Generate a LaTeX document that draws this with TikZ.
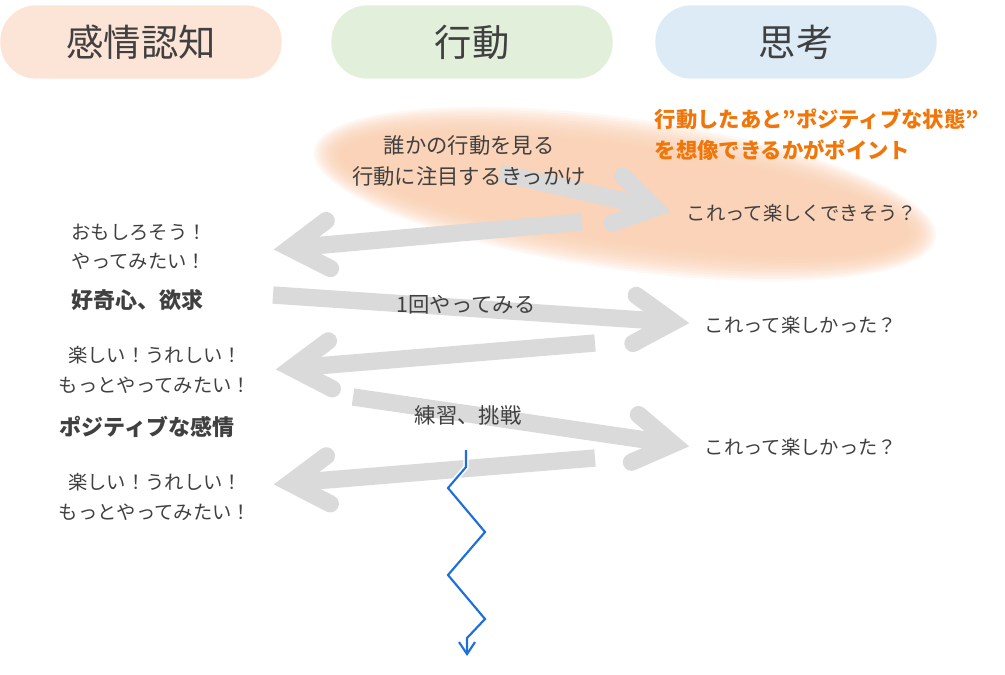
\documentclass[tikz,border=0pt]{standalone}
\usepackage{fontspec}
\setmainfont{Noto Sans CJK JP}
\usepackage{xcolor}
\usetikzlibrary{arrows.meta, positioning, calc}

\definecolor{textgray}{RGB}{64,64,64}
\definecolor{notecol}{RGB}{240,118,10}
\definecolor{arrowgray}{RGB}{218,218,218}
\definecolor{blobfill}{RGB}{249,204,172}
\definecolor{pillpeach}{RGB}{252,228,214}
\definecolor{pillgreen}{RGB}{226,239,218}
\definecolor{pillblue}{RGB}{221,235,247}
\definecolor{trailblue}{RGB}{30,110,220}

\begin{document}
\begin{tikzpicture}[x=0.75pt, y=-0.75pt,
    pill/.style={rectangle, rounded corners=27pt, minimum width=211pt, minimum height=55pt,
        text=textgray, font=\fontsize{28}{32}\selectfont},
    txt/.style={text=textgray, font=\fontsize{14.5}{22}\selectfont, align=center},
    acttxt/.style={txt, font=\fontsize{16}{23}\selectfont},
    keytxt/.style={text=textgray, font=\bfseries\fontsize{16.5}{22}\selectfont},
    note/.style={text=notecol, font=\bfseries\fontsize{16}{23}\selectfont, align=left},
    flow/.style={draw=arrowgray, line width=13pt},
    head/.style={draw=arrowgray, line width=13pt, line cap=round, line join=miter},
    trail/.style={draw=trailblue, line width=1.6pt, -{Straight Barb[length=9pt, width=12pt]}}
]
    \useasboundingbox (0,0) rectangle (1005,674);

    % Column headers
    \node[pill, fill=pillpeach] (emo) at (141,42) {感情認知};
    \node[pill, fill=pillgreen] (act) at (472,42) {行動};
    \node[pill, fill=pillblue] (think) at (796,42) {思考};

    % Highlight behind the first step
    \coordinate (blob) at (625,194);
    \foreach \k in {0,...,11}
        \fill[blobfill, opacity=0.15, rotate around={-8:(blob)}]
            (blob) ellipse [x radius=314-2.5*\k, y radius=76-2.5*\k];

    % Arrow end points
    \coordinate (r1-s) at (500,173);  \coordinate (r1-t) at (655,208);
    \coordinate (l1-s) at (582,222);  \coordinate (l1-t) at (290,248);
    \coordinate (r2-s) at (273,295);  \coordinate (r2-t) at (673,322);
    \coordinate (l2-s) at (595,343);  \coordinate (l2-t) at (292,368);
    \coordinate (r3-s) at (353,397);  \coordinate (r3-t) at (673,444);
    \coordinate (l3-s) at (595,458);  \coordinate (l3-t) at (290,483);

    % Wide gray arrows
    \foreach \a in {r1,l1,r2,l2,r3,l3} {
        \draw[flow] (\a-s) -- (\a-t);
        \draw[head] ($(\a-t)!34pt!32:(\a-s)$) -- (\a-t) -- ($(\a-t)!34pt!-32:(\a-s)$);
    }

    % Action column
    \node[acttxt] (see) at (469,161) {誰かの行動を見る\\行動に注目するきっかけ};
    \node[acttxt] (once) at (466,305) {1回やってみる};
    \node[acttxt] (train) at (468,415) {練習、挑戦};

    % Thinking column
    \node[note, anchor=west] (point) at (650,135) {行動したあと”ポジティブな状態”\\を想像できるかがポイント};
    \node[txt] (q1) at (802,213) {これって楽しくできそう？};
    \node[txt] (q2) at (801,325) {これって楽しかった？};
    \node[txt] (q3) at (801,447) {これって楽しかった？};

    % Feeling column
    \node[txt] (fun) at (139,247) {おもしろそう！\\やってみたい！};
    \node[keytxt] (want) at (137,300) {好奇心、欲求};
    \node[txt] (joy1) at (155,370) {楽しい！うれしい！\\もっとやってみたい！};
    \node[keytxt] (posi) at (147,427) {ポジティブな感情};
    \node[txt] (joy2) at (155,497) {楽しい！うれしい！\\もっとやってみたい！};

    % Repeating path downwards
    \coordinate (z0) at (466,450);
    \coordinate (z1) at (466,467);
    \coordinate (z2) at (448,488);
    \coordinate (z3) at (485,532);
    \coordinate (z4) at (448,575);
    \coordinate (z5) at (485,619);
    \coordinate (z6) at (467,638);
    \coordinate (z7) at (467,656);
    \draw[white, line width=4pt] (z0) -- (z1) -- (z2) -- (z3);
    \draw[trail] (z0) -- (z1) -- (z2) -- (z3) -- (z4) -- (z5) -- (z6) -- (z7);
\end{tikzpicture}
\end{document}
